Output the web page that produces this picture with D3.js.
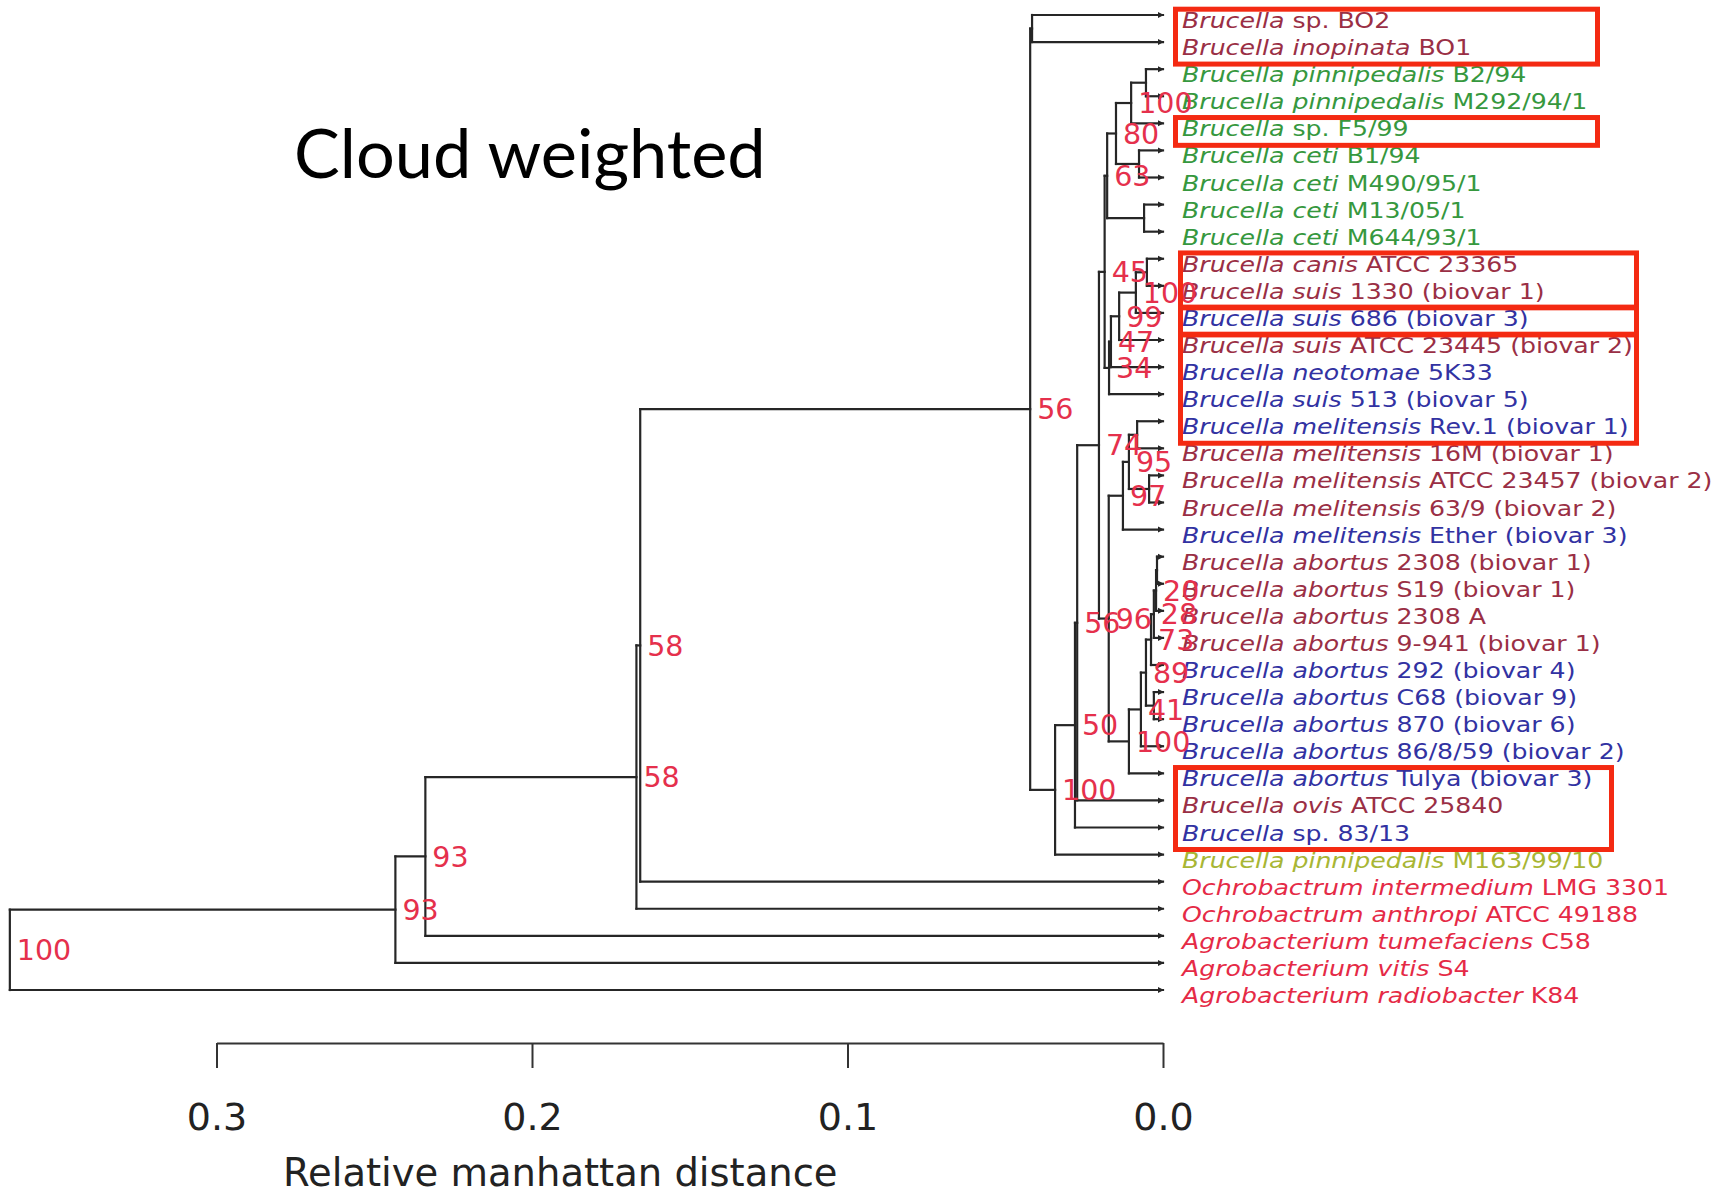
<!DOCTYPE html>
<html><head><meta charset="utf-8">
<script src="https://cdn.jsdelivr.net/npm/d3@7"></script>
<style>body{margin:0;background:#fff} text{white-space:pre}</style>
</head><body>
<svg id="chart" width="1727" height="1194"></svg>
<script>
// ---------------- DATA ----------------
const leafTaxa = ["Brucella","Brucella inopinata","Brucella pinnipedalis","Brucella pinnipedalis","Brucella","Brucella ceti","Brucella ceti","Brucella ceti","Brucella ceti","Brucella canis","Brucella suis","Brucella suis","Brucella suis","Brucella neotomae","Brucella suis","Brucella melitensis","Brucella melitensis","Brucella melitensis","Brucella melitensis","Brucella melitensis","Brucella abortus","Brucella abortus","Brucella abortus","Brucella abortus","Brucella abortus","Brucella abortus","Brucella abortus","Brucella abortus","Brucella abortus","Brucella ovis","Brucella","Brucella pinnipedalis","Ochrobactrum intermedium","Ochrobactrum anthropi","Agrobacterium tumefaciens","Agrobacterium vitis","Agrobacterium radiobacter"];
const leafStrains = ["sp. BO2","BO1","B2/94","M292/94/1","sp. F5/99","B1/94","M490/95/1","M13/05/1","M644/93/1","ATCC 23365","1330 (biovar 1)","686 (biovar 3)","ATCC 23445 (biovar 2)","5K33","513 (biovar 5)","Rev.1 (biovar 1)","16M (biovar 1)","ATCC 23457 (biovar 2)","63/9 (biovar 2)","Ether (biovar 3)","2308 (biovar 1)","S19 (biovar 1)","2308 A","9-941 (biovar 1)","292 (biovar 4)","C68 (biovar 9)","870 (biovar 6)","86/8/59 (biovar 2)","Tulya (biovar 3)","ATCC 25840","sp. 83/13","M163/99/10","LMG 3301","ATCC 49188","C58","S4","K84"];
const leafGroup = ["m","m","g","g","g","g","g","g","g","m","m","b","m","b","b","b","m","m","m","b","m","m","m","m","b","b","b","b","b","m","b","y","r","r","r","r","r"];

// internal nodes: children (number = leaf index, string = node), height (distance), support
const nodeNames = ["A1","A2","A3","A4","C1","A5","T1","T2","M1","M2","M3","M4","V","S1","S2","S3","S4","S5","P1","P2","P4","P3","P6","P5","R1","Q","W","Z","X","BO","N56","A","B","C","D","root"];
const nodeChildren = [[20,21],["A1",22],["A2",23],["A3",24],[25,26],["A4","C1"],["A5",27],["T1",28],[15,16],[17,18],["M1","M2"],["M3",19],["M4","T2"],[9,10],["S1",11],["S2",12],["S3",13],["S4",14],[2,3],["P1",4],[5,6],["P2","P4"],[7,8],["P3","P6"],["P5","S5"],["R1","V"],["Q",29],["W",30],["Z",31],[0,1],["BO","X"],["N56",32],["A",33],["B",34],["C",35],["D",36]];
const nodeHeights = [0.0019,0.0022,0.0029,0.0038,0.0029,0.0054,0.0070,0.0108,0.0082,0.0044,0.0108,0.0127,0.0172,0.0051,0.0086,0.0139,0.0165,0.0171,0.0054,0.0101,0.0076,0.0149,0.0060,0.0177,0.0185,0.0203,0.0272,0.0279,0.0342,0.0415,0.0421,0.1657,0.1669,0.2338,0.2433,0.3655];
const nodeSupport = [null,20,28,73,null,89,41,100,null,null,95,97,96,null,100,99,47,34,null,100,null,80,null,63,45,74,56,50,100,null,56,58,58,93,93,100];

const xTicks = [0.3, 0.2, 0.1, 0.0];
const highlightRanges = [[0,1],[4,4],[9,10],[11,11],[12,15],[28,30]];
const titleText = "Cloud weighted";
const axisTitle = "Relative manhattan distance";

// ---------------- LAYOUT / STYLE ----------------
const groupColor = {m:"#9a2f45", g:"#36983e", b:"#3232a2", y:"#a8b634", r:"#e52a46"};
const boxLeft = [1175.5,1175.5,1180.5,1180.5,1180.5,1175.5];
const boxRight = [1597.5,1597.5,1636.5,1636.5,1636.5,1611.5];
const lineColor = "#262626";

const svg = d3.select("#chart");
const x = d3.scaleLinear().domain([0, 0.1]).range([1163, 847.5]);
const y = d3.scaleLinear().domain([0, leafTaxa.length - 1]).range([15, 990]);

const nodeIndex = new Map(nodeNames.map((n, i) => [n, i]));
function build(ref) {
  if (typeof ref === "number") return {leaf: ref, height: 0};
  const i = nodeIndex.get(ref);
  return {name: ref, height: nodeHeights[i], support: nodeSupport[i], children: nodeChildren[i].map(build)};
}
const root = d3.hierarchy(build("root"));
root.eachAfter(d => {
  d.px = x(d.data.height);
  if (!d.children) d.py = y(d.data.leaf);
  else d.py = (d.children[0].py + d.children[d.children.length - 1].py) / 2;
});

// title
svg.append("text").attr("x", 294).attr("y", 178)
  .attr("font-family", "Lato, 'Open Sans', sans-serif").attr("font-size", 68.5).attr("fill", "#000")
  .text(titleText);

// tree
const tree = svg.append("g").attr("stroke", lineColor).attr("stroke-width", 2.2).attr("stroke-linecap", "square");
tree.selectAll("line.h").data(root.descendants().filter(d => d.parent)).join("line").attr("class", "h")
  .attr("x1", d => d.parent.px).attr("x2", d => d.px).attr("y1", d => d.py).attr("y2", d => d.py);
tree.selectAll("line.v").data(root.descendants().filter(d => d.children)).join("line").attr("class", "v")
  .attr("x1", d => d.px).attr("x2", d => d.px)
  .attr("y1", d => d.children[0].py).attr("y2", d => d.children[d.children.length - 1].py);
svg.append("g").selectAll("path").data(root.leaves()).join("path")
  .attr("d", d => `M${d.px - 5},${d.py - 3}L${d.px + 1},${d.py}L${d.px - 5},${d.py + 3}Z`)
  .attr("fill", lineColor);

// leaf labels
const lab = svg.append("g").selectAll("text").data(root.leaves()).join("text")
  .attr("transform", d => `translate(${d.px + 19},${d.py + 13}) scale(1.2,1)`)
  .attr("font-family", "'DejaVu Sans', sans-serif").attr("font-size", 21)
  .attr("fill", d => groupColor[leafGroup[d.data.leaf]]);
lab.append("tspan").attr("font-style", "italic").text(d => leafTaxa[d.data.leaf]);
lab.append("tspan").text(d => " " + leafStrains[d.data.leaf]);

// support labels
svg.append("g").selectAll("text").data(root.descendants().filter(d => d.data.support != null)).join("text")
  .attr("x", d => d.px + 7).attr("y", d => d.py).attr("dy", "0.36em")
  .attr("font-family", "'DejaVu Sans', sans-serif").attr("font-size", 28.5)
  .attr("fill", "#e5304c").text(d => d.data.support);

// highlight boxes
const leafY = i => y(i);
svg.append("g").selectAll("rect").data(highlightRanges).join("rect")
  .attr("x", (d, i) => boxLeft[i]).attr("width", (d, i) => boxRight[i] - boxLeft[i])
  .attr("y", d => leafY(d[0]) - 5.8).attr("height", d => leafY(d[1]) + 22 - (leafY(d[0]) - 5.8))
  .attr("fill", "none").attr("stroke", "#f42a12").attr("stroke-width", 5);

// axis
const xAxisScale = x.copy().domain([0.3, 0]).range([x(0.3), x(0)]);
const axisG = svg.append("g").attr("transform", "translate(0,1043)")
  .call(d3.axisBottom(xAxisScale).tickValues(xTicks).tickSize(25).tickSizeOuter(0).tickPadding(35).tickFormat(d3.format(".1f")));
axisG.select(".domain").attr("stroke", "#333").attr("stroke-width", 2);
axisG.selectAll(".tick line").attr("stroke", "#333").attr("stroke-width", 2);
axisG.selectAll(".tick text").attr("font-family", "'DejaVu Sans', sans-serif").attr("font-size", 38).attr("fill", "#222");

svg.append("text").attr("x", 283).attr("y", 1186)
  .attr("font-family", "'DejaVu Sans', sans-serif").attr("font-size", 38.5).attr("fill", "#222")
  .text(axisTitle);
</script>
</body></html>
